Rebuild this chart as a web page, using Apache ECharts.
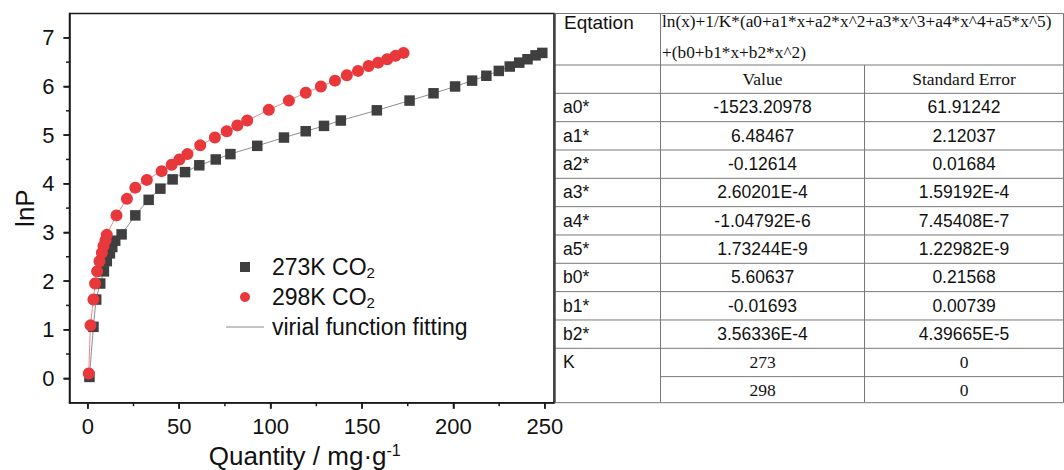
<!DOCTYPE html>
<html>
<head>
<meta charset="utf-8">
<script src="https://cdn.jsdelivr.net/npm/echarts@6/dist/echarts.min.js"></script>
<style>
  html, body { margin: 0; padding: 0; background: #fff; }
  #chart { width: 1064px; height: 470px; }
</style>
</head>
<body>
<div id="chart"></div>
<script>
// 273K CO2 measured points
const x273 = [0.9, 3.1, 4.6, 6.8, 8.8, 10.4, 12.1, 13.4, 15.0, 18.5, 26.0, 33.3, 39.7, 46.4, 53.2, 61.0, 70.0, 78.0, 92.7, 107.3, 119.2, 129.2, 138.4, 158.1, 176.0, 189.1, 200.9, 210.2, 218.0, 224.8, 230.8, 236.0, 240.5, 244.9, 248.6]
const y273 = [0.03, 1.06, 1.62, 1.95, 2.20, 2.41, 2.57, 2.70, 2.83, 2.96, 3.35, 3.67, 3.90, 4.09, 4.24, 4.38, 4.50, 4.61, 4.78, 4.95, 5.08, 5.19, 5.30, 5.51, 5.71, 5.86, 6.00, 6.12, 6.22, 6.32, 6.41, 6.49, 6.56, 6.64, 6.69]
// 298K CO2 measured points
const x298 = [0.55, 1.5, 3.1, 4.0, 5.1, 6.4, 7.7, 8.6, 9.7, 10.4, 15.7, 21.4, 26.0, 32.3, 40.4, 45.9, 50.1, 54.5, 61.5, 69.5, 76.0, 81.8, 87.2, 99.0, 110.0, 119.2, 127.5, 135.2, 141.7, 147.8, 153.6, 158.8, 163.8, 168.3, 172.7]
const y298 = [0.10, 1.09, 1.62, 1.95, 2.20, 2.41, 2.58, 2.72, 2.84, 2.95, 3.35, 3.69, 3.92, 4.08, 4.26, 4.39, 4.50, 4.61, 4.79, 4.95, 5.08, 5.20, 5.30, 5.52, 5.71, 5.87, 6.00, 6.12, 6.23, 6.32, 6.42, 6.49, 6.56, 6.63, 6.69]

const xTicks = [0, 50, 100, 150, 200, 250]
const xMinorTicks = [25, 75, 125, 175, 225]
const yTicks = [0, 1, 2, 3, 4, 5, 6, 7]
const yMinorTicks = [0.5, 1.5, 2.5, 3.5, 4.5, 5.5, 6.5]

// fit parameter table
const eqLines = ['ln(x)+1/K*(a0+a1*x+a2*x^2+a3*x^3+a4*x^4+a5*x^5)', '+(b0+b1*x+b2*x^2)']
const tableHead = ['Value', 'Standard Error']
const paramNames = ['a0*', 'a1*', 'a2*', 'a3*', 'a4*', 'a5*', 'b0*', 'b1*', 'b2*', 'K', '']
const paramValues = ['-1523.20978', '6.48467', '-0.12614', '2.60201E-4', '-1.04792E-6', '1.73244E-9', '5.60637', '-0.01693', '3.56336E-4', '273', '298']
const paramErrors = ['61.91242', '2.12037', '0.01684', '1.59192E-4', '7.45408E-7', '1.22982E-9', '0.21568', '0.00739', '4.39665E-5', '0', '0']

const SANS = 'Liberation Sans, Arial, sans-serif'
const SERIF = 'Liberation Serif, Times New Roman, serif'
const INK = '#111'
const AXIS = '#1a1a1a'
const X_RANGE = [-10, 255]
const Y_RANGE = [-0.5, 7.5]

function pairs (xs, ys) {
  return xs.map((x, i) => [x, ys[i]])
}

// table drawn with graphic elements, right of the plot
function buildTable () {
  const cols = [554.5, 660.5, 864.5, 1063.5]
  const top = 13.5
  const eqBottom = 65
  const rowH = 28.33
  const bottom = 402.7
  const lineStyle = { stroke: '#777', lineWidth: 1 }
  const els = []
  const hline = (x1, x2, y) => els.push({ type: 'line', shape: { x1, y1: y, x2, y2: y }, style: lineStyle, silent: true })
  const vline = (x, y1, y2) => els.push({ type: 'line', shape: { x1: x, y1, x2: x, y2 }, style: lineStyle, silent: true })
  const text = (str, x, y, font, size, align) => els.push({
    type: 'text', x, y, silent: true,
    style: { text: str, fontFamily: font, fontSize: size, fill: INK, align, verticalAlign: 'middle' }
  })

  hline(cols[0], cols[3], top)
  hline(cols[0], cols[3], eqBottom)
  for (let k = 1; k <= 11; k++) {
    hline(k === 11 ? cols[1] : cols[0], cols[3], eqBottom + rowH * k)
  }
  hline(cols[0], cols[3], bottom)
  vline(cols[1], top, bottom)
  vline(cols[2], eqBottom, bottom)
  vline(cols[3], top, bottom)
  els.push({ type: 'line', shape: { x1: cols[0], y1: top, x2: cols[0], y2: bottom }, style: { stroke: '#444', lineWidth: 2.5 }, silent: true })

  text('Eqtation', 564, 22, SANS, 19, 'left')
  text(eqLines[0], 662, 21, SERIF, 17.3, 'left')
  text(eqLines[1], 662, 52, SERIF, 17.3, 'left')

  const mid1 = (cols[1] + cols[2]) / 2
  const mid2 = (cols[2] + cols[3]) / 2
  text(tableHead[0], mid1, eqBottom + rowH * 0.5, SERIF, 17.5, 'center')
  text(tableHead[1], mid2, eqBottom + rowH * 0.5, SERIF, 17.5, 'center')

  paramNames.forEach((name, j) => {
    const y = j === paramNames.length - 1 ? (eqBottom + rowH * 11 + bottom) / 2 : eqBottom + rowH * (j + 1.5)
    const isK = j >= 9
    if (name) text(name, 563, y, SANS, 17.5, 'left')
    text(paramValues[j], mid1, y, isK ? SERIF : SANS, 17.5, 'center')
    text(paramErrors[j], mid2, y, isK ? SERIF : SANS, 17.5, 'center')
  })
  return els
}

// outward axis ticks, positioned with the chart's own scales
function buildTicks (chart) {
  const els = []
  const tick = (x1, y1, x2, y2) => els.push({
    type: 'line', silent: true, z: 100,
    shape: { x1, y1, x2, y2 },
    style: { stroke: AXIS, lineWidth: 1.5 }
  })
  const xTick = (v, len) => {
    const p = chart.convertToPixel({ xAxisIndex: 0, yAxisIndex: 0 }, [v, Y_RANGE[0]])
    tick(p[0], p[1], p[0], p[1] + len)
  }
  const yTick = (v, len) => {
    const p = chart.convertToPixel({ xAxisIndex: 0, yAxisIndex: 0 }, [X_RANGE[0], v])
    tick(p[0], p[1], p[0] - len, p[1])
  }
  xTicks.forEach(v => xTick(v, 6))
  xMinorTicks.forEach(v => xTick(v, 3.5))
  yTicks.forEach(v => yTick(v, 6))
  yMinorTicks.forEach(v => yTick(v, 3.5))
  return els
}

const option = {
  animation: false,
  backgroundColor: '#fff',
  grid: {
    left: 69.5, top: 13.5, right: 510, bottom: 67.3,
    outerBoundsMode: 'none', containLabel: false,
    show: true, borderColor: AXIS, borderWidth: 1.5
  },
  legend: {
    orient: 'vertical',
    left: 226,
    top: 254,
    padding: 0,
    itemWidth: 38,
    itemHeight: 10,
    itemGap: 4,
    data: [
      { name: '273K CO2', icon: 'path://M0 0H10V10H0Z' },
      { name: '298K CO2', icon: 'circle' },
      { name: 'virial function fitting', icon: 'path://M0 0H38V1H0Z', itemStyle: { color: '#8a8a8a' } }
    ],
    formatter: name => name.replace('CO2', 'CO{sub|2}'),
    textStyle: {
      fontFamily: SANS, fontSize: 23, color: INK, lineHeight: 26, padding: [0, 0, 0, 3],
      rich: { sub: { fontFamily: SANS, fontSize: 15, color: INK, verticalAlign: 'bottom' } }
    }
  },
  xAxis: {
    type: 'value', min: X_RANGE[0], max: X_RANGE[1], position: 'bottom',
    axisLine: { show: true, onZero: false, lineStyle: { color: AXIS, width: 1.5 } },
    axisTick: { show: true, customValues: xTicks, length: 6, lineStyle: { color: AXIS, width: 1.5 } },
    axisLabel: { customValues: xTicks, fontFamily: SANS, fontSize: 22, color: INK, margin: 13 },
    splitLine: { show: false },
    name: 'Quantity / mg·g{sup|-1}',
    nameLocation: 'middle',
    nameGap: 24,
    nameTextStyle: {
      fontFamily: SANS, fontSize: 26, color: INK, padding: [0, 14, 0, 0],
      rich: { sup: { fontFamily: SANS, fontSize: 16, color: INK, verticalAlign: 'top' } }
    }
  },
  yAxis: {
    type: 'value', min: Y_RANGE[0], max: Y_RANGE[1], position: 'left',
    axisLine: { show: true, onZero: false, lineStyle: { color: AXIS, width: 1.5 } },
    axisTick: { show: true, customValues: yTicks, length: 6, lineStyle: { color: AXIS, width: 1.5 } },
    axisLabel: { customValues: yTicks, fontFamily: SANS, fontSize: 22, color: INK, margin: 15 },
    splitLine: { show: false },
    name: 'lnP',
    nameLocation: 'middle',
    nameGap: 32,
    nameTextStyle: { fontFamily: SANS, fontSize: 26, color: INK }
  },
  series: [
    {
      name: 'virial function fitting', type: 'line', data: pairs(x273, y273),
      symbol: 'none', smooth: 0.2, lineStyle: { color: '#8a8a8a', width: 1 }, itemStyle: { color: '#8a8a8a' }, z: 1
    },
    {
      name: 'virial function fitting', type: 'line', data: pairs(x298, y298),
      symbol: 'none', smooth: 0.2, lineStyle: { color: '#e98585', width: 1 }, itemStyle: { color: '#8a8a8a' }, z: 1
    },
    {
      name: '273K CO2', type: 'scatter', data: pairs(x273, y273),
      symbol: 'rect', symbolSize: 10.5, itemStyle: { color: '#3f3f3f', opacity: 1 }, z: 2
    },
    {
      name: '298K CO2', type: 'scatter', data: pairs(x298, y298),
      symbol: 'circle', symbolSize: 12, itemStyle: { color: '#e8383b', opacity: 1 }, z: 3
    }
  ]
}

const chartDom = echarts.init(document.getElementById('chart'), null, { renderer: 'svg' })
chartDom.setOption(option)
// ticks need the laid-out grid, so the graphic goes in after the first pass
chartDom.setOption({ graphic: { elements: buildTable().concat(buildTicks(chartDom)) } })
</script>
</body>
</html>
